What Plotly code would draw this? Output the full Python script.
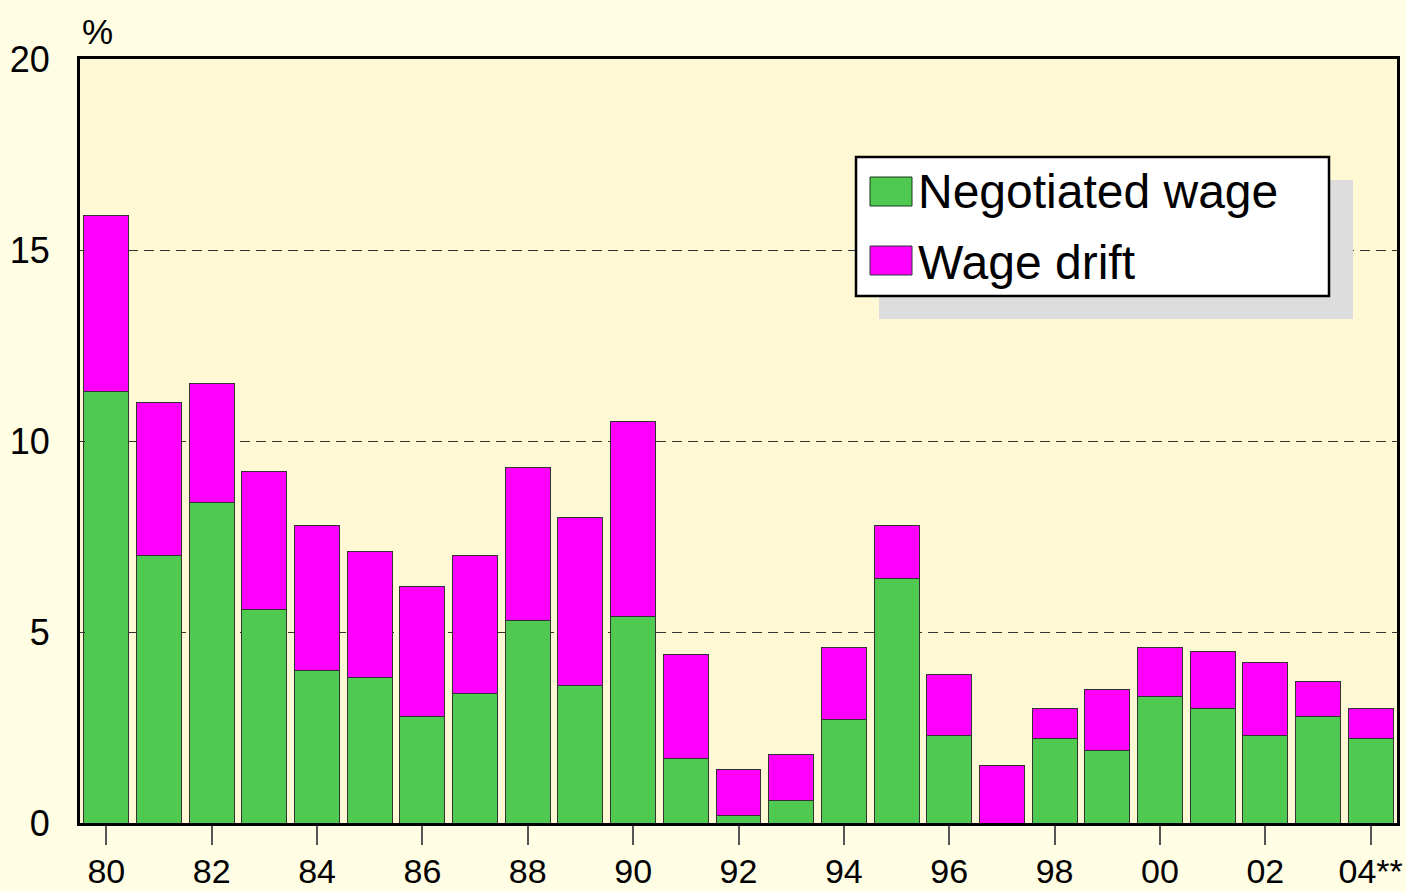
import plotly.graph_objects as go

years = ["80", "81", "82", "83", "84", "85", "86", "87", "88", "89", "90", "91", "92",
         "93", "94", "95", "96", "97", "98", "99", "00", "01", "02", "03", "04**"]
negotiated = [11.3, 7.0, 8.4, 5.6, 4.0, 3.8, 2.8, 3.4, 5.3, 3.6, 5.4, 1.7, 0.2,
              0.6, 2.7, 6.4, 2.3, 0.0, 2.2, 1.9, 3.3, 3.0, 2.3, 2.8, 2.2]
drift = [4.6, 4.0, 3.1, 3.6, 3.8, 3.3, 3.4, 3.6, 4.0, 4.4, 5.1, 2.7, 1.2,
         1.2, 1.9, 1.4, 1.6, 1.5, 0.8, 1.6, 1.3, 1.5, 1.9, 0.9, 0.8]
series_names = ["Negotiated wage", "Wage drift"]
tick_labels = years[::2]
y_ticks = [0, 5, 10, 15, 20]

FONT = "Liberation Sans, Arial, sans-serif"
GREEN = "#4FC94F"
MAGENTA = "#FF00FF"

fig = go.Figure()
fig.add_trace(go.Bar(x=years, y=negotiated, name=series_names[0],
                     marker=dict(color=GREEN, line=dict(color="#333333", width=1))))
fig.add_trace(go.Bar(x=years, y=drift, name=series_names[1],
                     marker=dict(color=MAGENTA, line=dict(color="#333333", width=1))))

# ---- manual legend (box with drop shadow) ----
def px_x(v):
    return (v - 80) / 1317.0

def px_y(v):
    return (823 - v) / 764.0

shapes = [
    dict(type="rect", xref="paper", yref="paper",
         x0=px_x(879), x1=px_x(1353), y0=px_y(319), y1=px_y(180),
         fillcolor="#DDDDDD", line=dict(width=0), layer="above"),
    dict(type="rect", xref="paper", yref="paper",
         x0=px_x(856), x1=px_x(1329), y0=px_y(296), y1=px_y(157),
         fillcolor="white", line=dict(color="black", width=2.5), layer="above"),
    dict(type="rect", xref="paper", yref="paper",
         x0=px_x(870), x1=px_x(912), y0=px_y(206), y1=px_y(177),
         fillcolor=GREEN, line=dict(color="#1a3a1a", width=1), layer="above"),
    dict(type="rect", xref="paper", yref="paper",
         x0=px_x(870), x1=px_x(912), y0=px_y(275), y1=px_y(246),
         fillcolor=MAGENTA, line=dict(color="#333333", width=1), layer="above"),
]
for s in shapes:
    fig.add_shape(**s)

for name, yc in zip(series_names, [192, 262]):
    fig.add_annotation(text=name, xref="paper", yref="paper",
                       x=px_x(916), y=px_y(yc), xanchor="left", yanchor="middle",
                       showarrow=False,
                       font=dict(family=FONT, size=48, color="black"))

fig.add_annotation(text="%", xref="paper", yref="paper", x=px_x(80), y=1.0,
                   xanchor="left", yanchor="bottom", yshift=6, showarrow=False,
                   font=dict(family=FONT, size=35, color="black"))

fig.update_layout(
    width=1406, height=892,
    barmode="stack", bargap=0.146,
    paper_bgcolor="#FFFDE3", plot_bgcolor="#FFF8D5",
    margin=dict(l=80, r=9, t=59, b=69, autoexpand=False),
    font=dict(family=FONT, size=36, color="black"),
    showlegend=False,
    xaxis=dict(type="category", categoryorder="array", categoryarray=years,
               tickmode="array", tickvals=tick_labels, ticktext=tick_labels,
               ticks="outside", ticklen=19, tickwidth=2, tickcolor="#555555",
               showline=True, linecolor="black", linewidth=3, mirror=True,
               showgrid=False, range=[-0.5, 24.5], ticklabelstandoff=-3,
               automargin=False,
               tickfont=dict(family=FONT, size=34, color="black")),
    yaxis=dict(range=[0, 20], tickvals=y_ticks,
               ticks="inside", ticklen=5, tickcolor="#333333",
               showline=True, linecolor="black", linewidth=3, mirror=True,
               showgrid=True, gridcolor="#333333", gridwidth=1, griddash="10px,6px",
               zeroline=False, ticklabelstandoff=20, automargin=False,
               tickfont=dict(family=FONT, size=36, color="black")),
)

fig.write_html("out.html", config={"displayModeBar": False},
               post_script="document.body.style.margin='0';")
